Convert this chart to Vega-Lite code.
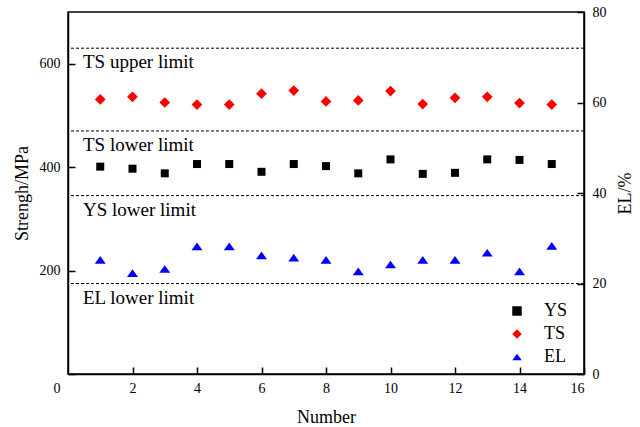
{
  "$schema": "https://vega.github.io/schema/vega-lite/v6.json",
  "width": 516,
  "height": 362,
  "autosize": "none",
  "padding": {"left": 68, "top": 12, "right": 56, "bottom": 53},
  "background": "white",
  "config": {
    "font": "Liberation Serif",
    "view": {"stroke": "black", "strokeWidth": 1.5},
    "axis": {
      "domainColor": "black",
      "domainWidth": 1.5,
      "tickColor": "black",
      "tickWidth": 1.5,
      "tickSize": -7,
      "labelPadding": 15,
      "labelFont": "Liberation Serif",
      "labelFontSize": 14,
      "labelColor": "black",
      "titleFont": "Liberation Serif",
      "titleFontSize": 18,
      "titleFontWeight": "normal",
      "titleColor": "black",
      "grid": false
    },
    "legend": {
      "labelFont": "Liberation Serif",
      "labelFontSize": 18,
      "labelColor": "black"
    },
    "text": {"font": "Liberation Serif"}
  },
  "datasets": {
    "points": [
      {"n": 1, "series": "YS", "value": 401}, {"n": 2, "series": "YS", "value": 397}, {"n": 3, "series": "YS", "value": 388},
      {"n": 4, "series": "YS", "value": 406}, {"n": 5, "series": "YS", "value": 406}, {"n": 6, "series": "YS", "value": 391},
      {"n": 7, "series": "YS", "value": 406}, {"n": 8, "series": "YS", "value": 402}, {"n": 9, "series": "YS", "value": 388},
      {"n": 10, "series": "YS", "value": 415}, {"n": 11, "series": "YS", "value": 387}, {"n": 12, "series": "YS", "value": 389},
      {"n": 13, "series": "YS", "value": 415}, {"n": 14, "series": "YS", "value": 414}, {"n": 15, "series": "YS", "value": 406},
      {"n": 1, "series": "TS", "value": 531}, {"n": 2, "series": "TS", "value": 536}, {"n": 3, "series": "TS", "value": 525},
      {"n": 4, "series": "TS", "value": 521}, {"n": 5, "series": "TS", "value": 521}, {"n": 6, "series": "TS", "value": 542},
      {"n": 7, "series": "TS", "value": 548}, {"n": 8, "series": "TS", "value": 527}, {"n": 9, "series": "TS", "value": 529},
      {"n": 10, "series": "TS", "value": 547}, {"n": 11, "series": "TS", "value": 522}, {"n": 12, "series": "TS", "value": 534},
      {"n": 13, "series": "TS", "value": 536}, {"n": 14, "series": "TS", "value": 524}, {"n": 15, "series": "TS", "value": 521},
      {"n": 1, "series": "EL", "value": 25.2}, {"n": 2, "series": "EL", "value": 22.3}, {"n": 3, "series": "EL", "value": 23.2},
      {"n": 4, "series": "EL", "value": 28.2}, {"n": 5, "series": "EL", "value": 28.2}, {"n": 6, "series": "EL", "value": 26.2},
      {"n": 7, "series": "EL", "value": 25.7}, {"n": 8, "series": "EL", "value": 25.2}, {"n": 9, "series": "EL", "value": 22.7},
      {"n": 10, "series": "EL", "value": 24.2}, {"n": 11, "series": "EL", "value": 25.2}, {"n": 12, "series": "EL", "value": 25.2},
      {"n": 13, "series": "EL", "value": 26.8}, {"n": 14, "series": "EL", "value": 22.7}, {"n": 15, "series": "EL", "value": 28.3}
    ],
    "limits": [
      {"limit": "TS upper limit", "value": 630},
      {"limit": "TS lower limit", "value": 470},
      {"limit": "YS lower limit", "value": 345},
      {"limit": "EL lower limit", "value": 175}
    ]
  },
  "layer": [
    {
      "layer": [
        {
          "data": {"name": "limits"},
          "mark": {"type": "rule", "strokeDash": [3, 2], "strokeWidth": 1, "color": "black"},
          "encoding": {
            "y": {"field": "value", "type": "quantitative", "scale": {"domain": [0, 700]}, "title": "Strengh/MPa"}
          }
        },
        {
          "data": {"name": "limits"},
          "mark": {"type": "text", "align": "left", "baseline": "alphabetic", "dx": 15, "dy": 20, "fontSize": 19, "font": "Liberation Serif", "color": "black"},
          "encoding": {
            "x": {"datum": 0, "type": "quantitative", "scale": {"domain": [0, 16]}, "title": "Number"},
            "y": {"field": "value", "type": "quantitative", "scale": {"domain": [0, 700]}, "title": "Strengh/MPa"},
            "text": {"field": "limit"}
          }
        },
        {
          "data": {"name": "points"},
          "transform": [{"filter": "datum.series !== 'EL'"}],
          "mark": {"type": "point", "filled": true, "opacity": 1},
          "encoding": {
            "x": {"field": "n", "type": "quantitative", "scale": {"domain": [0, 16]}, "title": "Number",
                  "axis": {"values": [2, 4, 6, 8, 10, 12, 14, 16], "labelPadding": 14, "titlePadding": 13}},
            "y": {"field": "value", "type": "quantitative", "scale": {"domain": [0, 700]}, "title": "Strengh/MPa",
                  "axis": {"values": [0, 200, 400, 600], "titlePadding": 8,
                           "labelOffset": {"condition": {"test": "datum.value === 0", "value": 14}, "value": 0}}},
            "color": {"field": "series", "type": "nominal",
                      "scale": {"domain": ["YS", "TS", "EL"], "range": ["#000000", "#ff0000", "#0000ff"]},
                      "legend": {"title": null, "orient": "none", "legendX": 440, "legendY": 290, "rowPadding": 5, "labelOffset": 18, "symbolSize": 90}},
            "shape": {"field": "series", "type": "nominal",
                      "scale": {"domain": ["YS", "TS", "EL"], "range": ["square", "diamond", "M0,-0.7L1,0.7L-1,0.7Z"]},
                      "legend": {"title": null, "orient": "none", "legendX": 440, "legendY": 290, "rowPadding": 5, "labelOffset": 18, "symbolSize": 90}},
            "size": {"condition": {"test": "datum.series === 'YS'", "value": 64}, "value": 115}
          }
        }
      ]
    },
    {
      "data": {"name": "points"},
      "transform": [{"filter": "datum.series === 'EL'"}],
      "mark": {"type": "point", "filled": true, "opacity": 1, "size": 121},
      "encoding": {
        "x": {"field": "n", "type": "quantitative", "scale": {"domain": [0, 16]}, "title": "Number"},
        "y": {"field": "value", "type": "quantitative", "scale": {"domain": [0, 80]}, "title": "EL/%",
              "axis": {"orient": "right", "values": [0, 20, 40, 60, 80], "titleAngle": 270, "titlePadding": 28}},
        "color": {"field": "series", "type": "nominal",
                  "scale": {"domain": ["YS", "TS", "EL"], "range": ["#000000", "#ff0000", "#0000ff"]}},
        "shape": {"field": "series", "type": "nominal",
                  "scale": {"domain": ["YS", "TS", "EL"], "range": ["square", "diamond", "M0,-0.7L1,0.7L-1,0.7Z"]}}
      }
    }
  ],
  "resolve": {"scale": {"y": "independent"}}
}
